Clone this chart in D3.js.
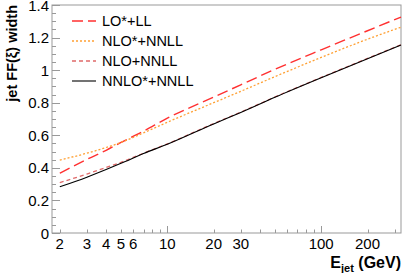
<!DOCTYPE html>
<html>
<head>
<meta charset="utf-8">
<script src="https://cdn.jsdelivr.net/npm/d3@7.9.0/dist/d3.min.js"></script>
<style>
  body { margin: 0; background: #fff; }
  svg text { font-family: "Liberation Sans", Arial, sans-serif; fill: #000; }
  .axis-line { stroke: #999; stroke-width: 1; fill: none; }
  .tick-line { stroke: #999; stroke-width: 1; }
</style>
</head>
<body>
<div id="chart"></div>
<script>
// jet energies (GeV) where the curves are sampled
const energies = [2, 3, 4, 5, 7, 10, 20, 30, 50, 100, 200, 330];

const loLL      = [0.367, 0.452, 0.508, 0.556, 0.625, 0.705, 0.834, 0.910, 1.005, 1.125, 1.242, 1.326];
const nloStar   = [0.448, 0.490, 0.525, 0.556, 0.615, 0.680, 0.800, 0.870, 0.960, 1.078, 1.190, 1.264];
const nloNNLL   = [0.309, 0.362, 0.402, 0.434, 0.490, 0.547, 0.672, 0.742, 0.835, 0.955, 1.072, 1.156];
const nnloNNLL  = [0.284, 0.343, 0.390, 0.428, 0.488, 0.545, 0.670, 0.740, 0.833, 0.953, 1.070, 1.154];

const seriesNames = ["LO*+LL", "NLO*+NNLL", "NLO+NNLL", "NNLO*+NNLL"];
const seriesValues = [loLL, nloStar, nloNNLL, nnloNNLL];

const xTickLabels = [2, 3, 4, 5, 6, 10, 20, 30, 100, 200];
const yTickLabels = [0, 0.2, 0.4, 0.6, 0.8, 1, 1.2, 1.4];

const W = 407, H = 273;
const margin = { left: 52, right: 6, top: 5, bottom: 40 };

const styles = [
  { color: "#ff3030", dash: "11,5", width: 1.4 },
  { color: "#ffa033", dash: "2,2", width: 1.3 },
  { color: "#e06a6a", dash: "4,3", width: 1.3 },
  { color: "#000000", dash: null, width: 1.1 }
];

const svg = d3.select("#chart").append("svg")
  .attr("width", W)
  .attr("height", H);

const x = d3.scaleLog()
  .domain([1.78, 330])
  .range([margin.left, W - margin.right]);

const y = d3.scaleLinear()
  .domain([0, 1.4])
  .range([H - margin.bottom, margin.top]);

const x0 = margin.left, x1 = W - margin.right;
const y0 = H - margin.bottom, y1 = margin.top;

// frame
svg.append("rect")
  .attr("class", "axis-line")
  .attr("x", x0).attr("y", y1)
  .attr("width", x1 - x0).attr("height", y0 - y1);

// y ticks (inward)
const yMinor = d3.range(0, 1.4001, 0.05);
svg.selectAll("line.ytick")
  .data(yMinor)
  .join("line")
    .attr("class", "tick-line")
    .attr("x1", x0)
    .attr("x2", v => x0 + (Math.abs(v / 0.2 - Math.round(v / 0.2)) < 1e-6 ? 8 : 4))
    .attr("y1", v => Math.round(y(v)) + 0.5)
    .attr("y2", v => Math.round(y(v)) + 0.5);

svg.selectAll("text.ylab")
  .data(yTickLabels)
  .join("text")
    .attr("class", "ylab")
    .attr("x", x0 - 3)
    .attr("y", v => y(v) + 5.5)
    .attr("text-anchor", "end")
    .attr("font-size", 15)
    .text(v => v);

// x ticks (inward)
const xMinor = [];
[1, 10, 100].forEach(d => {
  for (let k = 1; k < 10; k++) {
    const v = k * d;
    if (v >= 1.78 && v <= 330) xMinor.push(v);
  }
});
svg.selectAll("line.xtick")
  .data(xMinor)
  .join("line")
    .attr("class", "tick-line")
    .attr("x1", v => Math.round(x(v)) + 0.5)
    .attr("x2", v => Math.round(x(v)) + 0.5)
    .attr("y1", y0)
    .attr("y2", v => y0 - ([10, 100].includes(v) ? 7 : 3.5));

svg.selectAll("text.xlab")
  .data(xTickLabels)
  .join("text")
    .attr("class", "xlab")
    .attr("x", v => x(v))
    .attr("y", y0 + 16)
    .attr("text-anchor", "middle")
    .attr("font-size", 15)
    .text(v => v);

// axis titles
svg.append("text")
  .attr("transform", `translate(17, ${y1}) rotate(-90)`)
  .attr("text-anchor", "end")
  .attr("font-size", 14.5)
  .attr("font-weight", "bold")
  .text("jet FF(ξ) width");

const xt = svg.append("text")
  .attr("x", x1)
  .attr("y", H - 5)
  .attr("text-anchor", "end")
  .attr("font-size", 16)
  .attr("font-weight", "bold");
xt.append("tspan").text("E");
xt.append("tspan").attr("font-size", 11).attr("dy", 4).text("jet");
xt.append("tspan").attr("dy", -4).text(" (GeV)");

// curves
const line = d3.line()
  .x(d => x(d[0]))
  .y(d => y(d[1]))
  .curve(d3.curveMonotoneX);

seriesValues.forEach((vals, i) => {
  const pts = energies.map((e, j) => [e, vals[j]]);
  svg.append("path")
    .datum(pts)
    .attr("d", line)
    .attr("fill", "none")
    .attr("stroke", styles[i].color)
    .attr("stroke-width", styles[i].width)
    .attr("stroke-dasharray", styles[i].dash);
});

// legend
const legend = svg.append("g");
seriesNames.forEach((name, i) => {
  const ly = 21 + i * 20;
  legend.append("line")
    .attr("x1", 72).attr("x2", 96)
    .attr("y1", ly).attr("y2", ly)
    .attr("stroke", styles[i].color)
    .attr("stroke-width", styles[i].width)
    .attr("stroke-dasharray", styles[i].dash);
  legend.append("text")
    .attr("x", 102)
    .attr("y", ly + 5)
    .attr("font-size", 14.5)
    .text(name);
});
</script>
</body>
</html>
